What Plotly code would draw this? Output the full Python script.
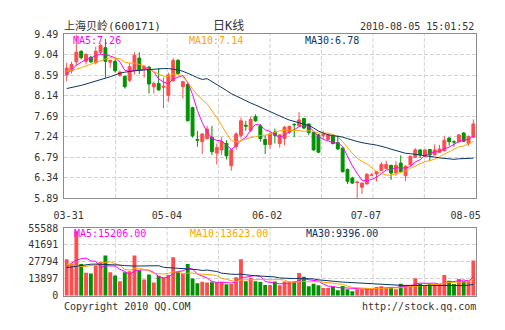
import plotly.graph_objects as go

# ---------------- data ----------------
opens = [8.60, 8.69, 8.89, 9.12, 8.90, 8.99, 8.87, 9.10, 9.20, 8.88,
         8.90, 8.59, 8.57, 8.48, 8.70, 8.97, 8.74, 8.77, 8.34, 8.41,
         8.33, 8.15, 8.47, 8.92, 8.34, 8.39, 7.88, 7.18, 7.13, 7.20,
         7.23, 6.88, 6.95, 7.09, 6.60, 7.02, 7.27, 7.49, 7.38, 7.68,
         7.48, 7.18, 7.07, 7.34, 7.09, 7.20, 7.34, 7.51, 7.48, 7.64,
         7.52, 7.33, 7.28, 7.27, 7.18, 7.25, 7.11, 6.99, 6.52, 6.33,
         6.23, 6.13, 6.20, 6.39, 6.42, 6.50, 6.54, 6.61, 6.45, 6.66,
         6.38, 6.62, 6.79, 6.95, 6.81, 6.96, 6.84, 6.90, 6.93, 7.21,
         7.13, 7.13, 7.32, 7.09, 7.23]
highs = [8.87, 8.89, 9.49, 9.14, 9.08, 9.02, 9.22, 9.29, 9.39, 8.94,
         8.94, 8.70, 8.58, 8.87, 9.10, 9.10, 8.80, 8.80, 8.45, 8.75,
         8.54, 8.65, 8.97, 8.95, 8.47, 8.42, 7.90, 7.37, 7.32, 7.48,
         7.48, 7.09, 7.23, 7.16, 6.96, 7.34, 7.66, 7.59, 7.68, 7.73,
         7.52, 7.27, 7.34, 7.42, 7.30, 7.48, 7.48, 7.54, 7.78, 7.66,
         7.53, 7.34, 7.30, 7.37, 7.30, 7.30, 7.27, 7.00, 6.54, 6.36,
         6.27, 6.23, 6.44, 6.44, 6.49, 6.68, 6.71, 6.62, 6.70, 6.83,
         6.61, 6.82, 6.99, 6.96, 6.96, 6.97, 7.07, 7.06, 7.25, 7.23,
         7.16, 7.30, 7.34, 7.26, 7.62]
lows = [8.46, 8.63, 8.80, 8.94, 8.83, 8.86, 8.83, 9.05, 8.54, 8.76,
        8.65, 8.56, 8.30, 8.44, 8.61, 8.62, 8.54, 8.19, 8.19, 8.25,
        7.87, 8.01, 8.45, 8.60, 8.08, 7.58, 7.22, 7.02, 6.86, 7.18,
        6.84, 6.63, 6.84, 6.74, 6.49, 6.95, 7.20, 7.37, 7.34, 7.57,
        7.13, 6.86, 6.98, 7.09, 7.00, 7.05, 7.30, 7.23, 7.46, 7.41,
        7.27, 6.93, 6.88, 7.18, 7.16, 7.07, 6.95, 6.45, 6.20, 6.20,
        5.89, 5.98, 6.19, 6.37, 6.26, 6.48, 6.52, 6.29, 6.38, 6.45,
        6.26, 6.60, 6.77, 6.77, 6.79, 6.71, 6.83, 6.89, 6.92, 7.04,
        7.02, 7.11, 7.12, 7.04, 7.21]
closes = [8.75, 8.83, 9.10, 8.98, 9.05, 8.89, 9.12, 9.25, 8.90, 8.92,
          8.69, 8.66, 8.34, 8.78, 9.03, 8.70, 8.79, 8.40, 8.41, 8.27,
          8.35, 8.60, 8.92, 8.63, 8.45, 7.59, 7.26, 7.16, 7.30, 7.41,
          6.91, 7.00, 7.13, 6.82, 6.95, 7.30, 7.59, 7.47, 7.62, 7.59,
          7.20, 7.07, 7.30, 7.27, 7.28, 7.45, 7.47, 7.50, 7.61, 7.43,
          7.33, 6.95, 6.90, 7.29, 7.28, 7.09, 6.97, 6.47, 6.26, 6.22,
          6.245, 6.22, 6.41, 6.40, 6.47, 6.63, 6.63, 6.44, 6.61, 6.47,
          6.59, 6.81, 6.95, 6.84, 6.95, 6.84, 6.95, 6.97, 7.16, 7.13,
          7.12, 7.28, 7.14, 7.25, 7.52]
volumes = [30000, 26500, 53000, 26000, 18900, 18200, 25000, 27600, 33100, 19300,
           16500, 11800, 19200, 20000, 33100, 20800, 13300, 17400, 10900, 16300,
           15000, 17000, 31500, 20000, 18000, 26000, 14200, 10200, 11500, 10900,
           11000, 11000, 11200, 9300, 9500, 15200, 30000, 11800, 14500, 11800,
           11200, 8700, 8700, 11700, 8500, 11700, 11700, 11700, 18600, 15600,
           7700, 9800, 8500, 6400, 6400, 7200, 4500, 8000, 5300, 3700,
           5300, 5300, 6400, 5300, 7200, 7700, 6400, 7200, 5300, 9800,
           9000, 9000, 14300, 9800, 8500, 9500, 9500, 9500, 17000, 12200,
           9500, 13800, 12000, 12500, 29000]

# moving-average values before enough in-window history exists
ma5_head = [8.62, 8.72, 8.81, 8.88]
ma10_head = [8.68, 8.70, 8.73, 8.76, 8.80, 8.84, 8.88, 8.92, 8.95]
ma30_head = [8.30, 8.32, 8.35, 8.37, 8.40, 8.43, 8.46, 8.49, 8.52, 8.56,
             8.60, 8.64, 8.66, 8.68, 8.69, 8.70, 8.71, 8.72, 8.73, 8.74,
             8.74, 8.74, 8.73, 8.71, 8.68, 8.64, 8.59, 8.54, 8.50]
vma5_head = [23300, 26800, 29100, 30400]
vma10_head = [25960, 25170, 24370, 23850, 24110, 24640, 25430, 27020, 27280]
vma30_head = [23050, 23700, 24370, 25000, 25700, 25850, 25960, 25900, 25800, 25600,
              25430, 25100, 24700, 24370, 24370, 24370, 24370, 24600, 24900, 24600,
              23320, 23100, 22900, 22780, 22500, 22200, 21990, 21400, 20700]

date_labels = ["03-31", "05-04", "06-02", "07-07", "08-05"]
price_ticks = [5.89, 6.34, 6.79, 7.24, 7.69, 8.14, 8.59, 9.04, 9.49]
volume_ticks = [0, 13897, 27794, 41691, 55588]
price_ma_labels = ["MA5:7.26", "MA10:7.14", "MA30:6.78"]
volume_ma_labels = ["MA5:15206.00", "MA10:13623.00", "MA30:9396.00"]
title_text = "上海贝岭(600171)"
center_text = "日K线"
time_text = "2010-08-05 15:01:52"
footer_left = "Copyright 2010 QQ.COM"
footer_right = "http://stock.qq.com"


def moving_avg(vals, n, head):
    out = []
    for k in range(len(vals)):
        if k < n - 1:
            out.append(head[k])
        else:
            out.append(sum(vals[k - n + 1:k + 1]) / n)
    return out


# ---------------- style ----------------
W, H = 505, 330
RED = "#FF4C4C"
GREEN = "#009200"
MA_COLORS = ["#FF00FF", "#FFA500", "#0B3466"]
TXT = "#333333"
FONT = "DejaVu Sans Mono, Noto Sans CJK SC"
GRID = "#D2D2D2"
FRAME = "#8C8C8C"

L, R = 55, 480
P_TOP, P_BOT = 30.5, 199.7
V_TOP, V_BOT = 230.7, 300.7

n = len(closes)
xs = list(range(n))
up = [c >= o for o, c in zip(opens, closes)]
colors = [RED if u else GREEN for u in up]

fig = go.Figure()

# wicks
for flag, col in ((True, RED), (False, GREEN)):
    wx, wy = [], []
    for i in xs:
        if up[i] == flag:
            wx += [i, i, None]
            wy += [lows[i], highs[i], None]
    fig.add_trace(go.Scatter(x=wx, y=wy, mode="lines", line=dict(color=col, width=1),
                             xaxis="x", yaxis="y", hoverinfo="skip"))

# bodies
bases = [min(o, c) for o, c in zip(opens, closes)]
heights = [max(abs(c - o), 0.004) for o, c in zip(opens, closes)]
fig.add_trace(go.Bar(x=xs, y=heights, base=bases, width=0.6,
                     marker=dict(color=colors, line=dict(color=colors, width=1)),
                     xaxis="x", yaxis="y", hoverinfo="skip"))

# price MAs
for ma, col in zip([moving_avg(closes, 5, ma5_head), moving_avg(closes, 10, ma10_head),
                    moving_avg(closes, 30, ma30_head)], MA_COLORS):
    fig.add_trace(go.Scatter(x=xs, y=ma, mode="lines", line=dict(color=col, width=1),
                             xaxis="x", yaxis="y", hoverinfo="skip"))

# volume bars
fig.add_trace(go.Bar(x=xs, y=volumes, width=0.8, marker=dict(color=colors, line=dict(width=0)),
                     xaxis="x2", yaxis="y2", hoverinfo="skip"))
for ma, col in zip([moving_avg(volumes, 5, vma5_head), moving_avg(volumes, 10, vma10_head),
                    moving_avg(volumes, 30, vma30_head)], MA_COLORS):
    fig.add_trace(go.Scatter(x=xs, y=ma, mode="lines", line=dict(color=col, width=1),
                             xaxis="x2", yaxis="y2", hoverinfo="skip"))

xdom = [L / W, R / W]
label_pos = [0.4, 20.7, 41.4, 61.8, 82.4]
axis_common = dict(showline=True, mirror=True, linecolor=FRAME, linewidth=1, zeroline=False,
                   tickfont=dict(family=FONT, size=10, color=TXT), fixedrange=True)

fig.update_layout(
    width=W, height=H, margin=dict(l=0, r=0, t=0, b=0),
    paper_bgcolor="white", plot_bgcolor="white",
    showlegend=False, hovermode=False, barmode="overlay",
    xaxis=dict(domain=xdom, range=[-0.5, n - 0.5], anchor="y", showgrid=False,
               tickvals=label_pos, ticktext=date_labels, ticks="outside", ticklen=8,
               tickcolor="rgba(0,0,0,0)", **axis_common),
    yaxis=dict(domain=[1 - P_BOT / H, 1 - P_TOP / H], range=[price_ticks[0], price_ticks[-1]],
               anchor="x", tickvals=price_ticks, ticktext=[f"{t:.2f}" for t in price_ticks],
               showgrid=True, gridcolor=GRID, griddash="4px,2px", gridwidth=1,
               ticks="outside", ticklen=3, tickcolor="rgba(0,0,0,0)", **axis_common),
    xaxis2=dict(domain=xdom, range=[-0.5, n - 0.5], anchor="y2", showgrid=False,
                showticklabels=False, **axis_common),
    yaxis2=dict(domain=[1 - V_BOT / H, 1 - V_TOP / H], range=[0, volume_ticks[-1]],
                anchor="x2", tickvals=volume_ticks, ticktext=[str(t) for t in volume_ticks],
                showgrid=True, gridcolor=GRID, griddash="4px,2px", gridwidth=1,
                ticks="outside", ticklen=3, tickcolor="rgba(0,0,0,0)", **axis_common),
)

# vertical dashed grid lines (8 divisions)
shapes = []
for xr, yr in (("x domain", "y domain"), ("x2 domain", "y2 domain")):
    for k in range(1, 8):
        shapes.append(dict(type="line", xref=xr, yref=yr, x0=k / 8, x1=k / 8, y0=0, y1=1,
                           line=dict(color=GRID, width=1, dash="4px,2px"), layer="below"))
fig.update_layout(shapes=shapes)


def ann(text, x_px, y_px, anchor="left", color=TXT, size=10):
    return dict(text=text, x=x_px / W, y=1 - y_px / H, xref="paper", yref="paper",
                xanchor=anchor, yanchor="middle", showarrow=False,
                font=dict(family=FONT, size=size, color=color), borderpad=0)


annotations = [
    ann(title_text, 54, 22, "left", TXT, 11),
    ann(center_text, 225, 22, "center", TXT, 12),
    ann(time_text, 479, 22, "right", TXT, 10),
    ann(footer_left, 54, 312, "left", TXT, 10),
    ann(footer_right, 481, 312, "right", TXT, 10),
]
for k, (t, col) in enumerate(zip(price_ma_labels, MA_COLORS)):
    annotations.append(ann(t, 63 + 120 * k, 37, "left", col, 10))
for k, (t, col) in enumerate(zip(volume_ma_labels, MA_COLORS)):
    annotations.append(ann(t, 64 + 120 * k, 236, "left", col, 10))
fig.update_layout(annotations=annotations)

fig.write_html("out.html", config={"displayModeBar": False, "staticPlot": True})
